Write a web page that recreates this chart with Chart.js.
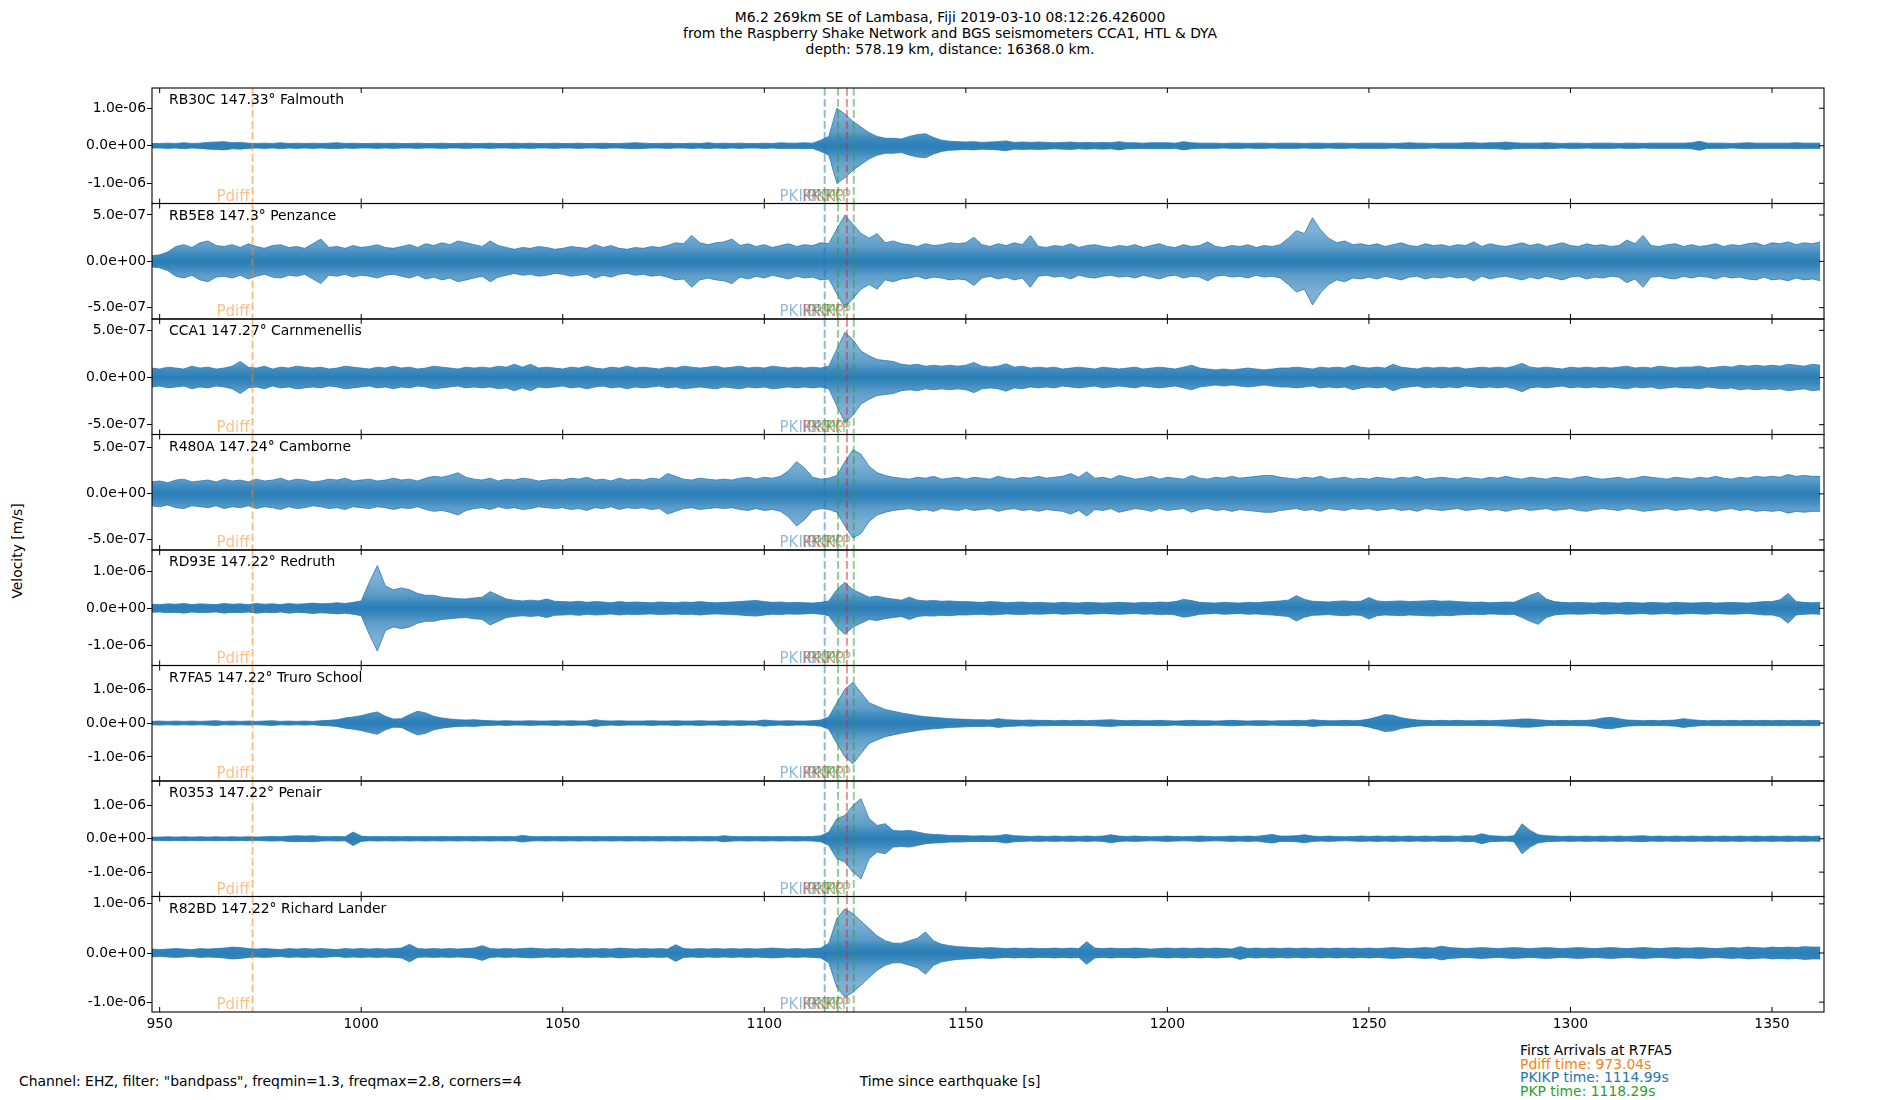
<!DOCTYPE html>
<html>
<head>
<meta charset="utf-8">
<script src="https://cdn.jsdelivr.net/npm/chart.js@4.4.1/dist/chart.umd.min.js"></script>
<style>
  body { margin: 0; background: #fff; }
  #wrap { position: relative; width: 1900px; height: 1100px; overflow: hidden;
          font-family: "DejaVu Sans"; font-size: 13.9px; color: #000; }
  #wrap canvas { position: absolute; left: 0; top: 0; }
  .txt { position: absolute; white-space: pre; line-height: 16px; }
</style>
</head>
<body>
<div id="wrap">
  <div class="txt" style="left:950px; top:9px; transform:translateX(-50%); text-align:center;">M6.2 269km SE of Lambasa, Fiji 2019-03-10 08:12:26.426000
from the Raspberry Shake Network and BGS seismometers CCA1, HTL &amp; DYA
depth: 578.19 km, distance: 16368.0 km.</div>
  <div class="txt" style="left:17px; top:551px; transform:translate(-50%,-50%) rotate(-90deg);">Velocity [m/s]</div>
  <div class="txt" style="left:19px; top:1073px;">Channel: EHZ, filter: "bandpass", freqmin=1.3, freqmax=2.8, corners=4</div>
  <div class="txt" style="left:950px; top:1073px; transform:translateX(-50%);">Time since earthquake [s]</div>
  <div class="txt" style="left:1520px; top:1044px; line-height:13.7px;">First Arrivals at R7FA5
<span style="color:#ff7f0e">Pdiff time: 973.04s</span>
<span style="color:#1f77b4">PKIKP time: 1114.99s</span>
<span style="color:#2ca02c">PKP time: 1118.29s</span></div>
</div>
<script>
// peak amplitude of each trace in 2 s bins, units of 1e-7 m/s
// bins: 948, then 950..1348 in rows of ten, then 1350..1362
var ampFalmouth = [0.6,
  0.6,0.7,0.6,0.8,0.6,0.7,0.9,1.0,1.1,0.8,
  0.9,0.7,0.6,0.7,0.6,0.8,0.6,0.7,0.6,0.7,
  0.6,0.7,0.8,0.6,0.7,0.6,0.6,0.7,0.6,0.7,
  0.6,0.6,0.7,0.6,0.6,0.7,0.6,0.6,0.7,0.6,
  0.6,0.7,0.6,0.6,0.7,0.6,0.7,0.6,0.6,0.7,
  0.6,0.6,0.7,0.6,0.6,0.7,0.6,0.6,0.7,0.8,
  0.7,0.6,0.6,0.7,0.6,0.6,0.7,0.6,0.8,0.6,
  0.7,0.6,0.7,0.6,0.6,0.7,0.6,0.8,0.7,0.7,
  0.8,0.7,1.5,2.5,10,8.5,6.5,5.0,3.5,2.5,
  2.0,2.0,1.8,2.5,3.0,3.2,2.2,1.5,1.2,1.1,
  1.0,1.1,0.9,1.0,1.1,1.3,0.9,1.0,0.9,1.0,
  0.9,0.8,0.9,1.0,0.8,0.9,0.8,0.9,0.8,1.1,
  0.8,0.8,0.7,0.8,0.8,0.8,0.7,1.1,0.8,0.7,
  0.7,0.7,0.6,0.7,0.7,0.6,0.7,0.7,0.6,0.7,
  0.7,0.7,0.6,0.7,0.7,0.6,0.7,0.7,0.6,0.7,
  0.7,0.7,0.7,0.6,0.7,0.8,0.7,0.7,0.6,0.7,
  0.7,0.7,0.8,0.8,0.7,0.8,0.8,1.0,0.8,0.7,
  0.7,0.7,0.8,0.7,0.6,0.7,0.7,0.6,0.7,0.7,
  0.7,0.6,0.7,0.7,0.6,0.7,0.7,0.7,0.7,0.7,
  0.8,1.2,0.7,0.7,0.7,0.6,0.7,0.8,0.7,0.7,
  0.7,0.7,0.7,0.8,0.7,0.7,0.7];

var ampPenzance = [0.6,
  0.7,1.0,1.6,1.8,1.5,2.0,2.2,1.7,1.6,1.8,
  1.5,1.9,1.6,1.4,1.7,1.8,1.5,1.6,1.4,1.9,
  2.4,1.5,1.6,1.4,1.7,1.5,1.6,1.8,1.5,1.4,
  1.6,1.8,1.5,1.9,1.7,2.0,1.8,2.2,2.0,1.8,
  1.6,2.2,1.7,1.5,1.3,1.5,1.4,1.6,1.5,1.3,
  1.4,1.6,1.5,1.4,1.8,1.5,1.7,1.4,1.3,1.5,
  1.4,1.6,1.5,1.7,2.0,1.9,2.8,2.0,1.8,2.0,
  2.1,2.4,1.7,1.9,1.6,1.8,1.5,1.7,1.9,1.6,
  1.8,1.7,2.0,1.9,3.5,5.0,4.0,3.0,2.5,3.0,
  2.0,2.2,1.9,1.8,1.6,1.9,1.7,1.8,2.0,1.9,
  2.0,2.6,1.8,1.6,1.9,1.7,2.0,1.8,2.8,1.6,
  1.5,1.7,1.6,1.9,1.5,1.7,1.8,1.6,1.5,1.7,
  1.6,1.8,1.5,1.7,1.9,1.6,1.5,1.8,1.6,1.7,
  2.1,1.6,1.5,1.7,1.6,1.8,1.5,1.7,1.6,1.8,
  2.5,3.3,3.0,4.7,3.4,2.5,2.0,2.2,1.8,1.9,
  1.7,1.9,1.6,1.8,2.0,1.7,1.6,1.9,1.7,1.8,
  1.6,1.8,1.7,2.1,1.6,1.9,1.7,1.6,1.8,2.0,
  1.7,1.9,1.6,1.8,2.0,1.7,1.6,1.9,1.7,1.8,
  1.6,1.7,2.3,1.9,2.8,1.7,1.6,1.8,1.9,1.6,
  1.8,1.6,1.7,1.9,1.6,1.8,1.7,1.9,2.0,1.7,
  2.0,1.9,2.1,1.8,2.0,1.9,2.1];

var ampCarnmenellis = [1.0,
  0.9,1.1,1.0,0.9,1.2,1.0,1.1,0.9,1.0,1.2,
  1.7,1.1,1.0,1.2,0.9,1.1,1.0,1.2,1.1,1.0,
  1.1,0.9,1.0,1.2,1.1,1.0,0.9,1.1,1.0,1.2,
  1.0,1.1,0.9,1.0,1.2,1.1,1.0,0.9,1.1,1.0,
  1.1,1.0,1.2,1.1,1.4,1.1,1.4,1.0,1.1,1.0,
  0.9,1.1,1.0,1.2,1.0,0.9,1.1,1.0,1.2,1.0,
  1.1,1.0,0.9,1.1,1.0,1.2,1.1,1.0,1.1,1.2,
  1.0,1.1,1.2,1.0,1.1,1.0,1.2,1.1,1.0,1.1,
  1.0,1.1,1.0,1.2,3.0,4.8,4.0,2.8,2.3,1.9,
  1.8,1.7,1.4,1.3,1.4,1.2,1.3,1.2,1.3,1.2,
  1.3,1.6,1.2,1.1,1.2,1.45,1.1,1.2,1.0,1.1,
  1.0,1.1,0.9,1.0,1.1,1.0,0.9,1.1,1.0,0.9,
  1.0,1.1,0.9,1.0,1.1,1.0,0.9,1.1,1.3,1.0,
  0.9,0.8,0.9,0.8,0.9,1.0,0.9,0.8,0.9,1.0,
  1.0,1.1,1.0,0.9,1.1,1.0,1.1,1.0,1.3,1.1,
  1.0,1.1,1.0,1.4,1.1,1.0,0.9,1.1,1.0,1.1,
  1.0,1.1,0.9,1.0,1.1,1.0,1.1,1.0,1.2,1.5,
  1.1,1.0,1.1,1.0,0.9,1.1,1.0,1.1,1.0,1.1,
  1.0,1.1,1.2,1.0,1.1,1.0,1.2,1.1,1.0,1.1,
  1.1,1.2,1.0,1.1,1.2,1.1,1.3,1.2,1.3,1.2,
  1.3,1.2,1.4,1.3,1.2,1.4,1.3];

var ampCamborne = [1.3,
  1.4,1.2,1.5,1.6,1.3,1.4,1.5,1.3,1.6,1.4,
  1.5,1.3,1.6,1.4,1.5,1.7,1.4,1.6,1.5,1.3,
  1.4,1.6,1.5,1.7,1.4,1.5,1.6,1.4,1.5,1.7,
  1.5,1.6,1.4,1.7,1.9,1.8,2.0,2.3,1.8,1.6,
  1.5,1.7,1.4,1.6,1.5,1.7,1.6,1.4,1.5,1.6,
  1.5,1.7,1.6,1.8,1.5,1.6,1.4,1.7,1.5,1.6,
  1.5,1.7,1.6,2.2,1.9,1.6,1.5,1.7,1.6,1.5,
  1.6,1.5,1.7,1.8,1.6,1.8,1.7,1.9,2.5,3.5,
  2.8,1.8,1.6,1.7,2.0,3.5,4.8,4.3,3.0,2.3,
  2.0,1.8,1.7,1.6,1.8,1.7,1.9,1.6,1.7,1.8,
  1.6,1.8,1.7,1.6,1.9,1.7,1.6,1.8,1.7,1.9,
  1.7,1.8,1.9,2.2,1.8,2.4,1.7,1.8,1.6,2.0,
  1.8,1.6,1.7,1.9,1.6,1.8,1.7,1.6,2.0,1.7,
  1.6,1.8,1.7,1.9,1.7,1.8,1.9,2.0,2.0,1.8,
  1.7,1.6,1.8,1.7,1.9,1.6,1.7,1.8,1.6,1.7,
  1.6,1.8,1.7,1.6,1.8,1.7,1.9,1.6,1.7,1.8,
  1.7,1.6,1.8,1.7,1.6,1.8,1.7,1.9,1.7,1.6,
  1.8,1.7,1.6,1.8,1.7,1.6,1.8,1.9,1.7,1.6,
  1.7,1.8,1.6,1.7,1.9,1.8,1.7,1.6,1.8,1.7,
  1.6,1.8,1.7,1.9,1.7,1.6,1.8,1.7,1.9,1.8,
  1.9,1.8,2.1,1.9,2.0,1.9,1.9];

var ampRedruth = [1.1,
  1.0,1.2,1.1,1.3,1.0,1.2,1.1,1.0,1.3,1.1,
  1.2,1.0,1.3,1.1,1.2,1.0,1.3,1.1,1.2,1.4,
  1.2,1.3,1.5,1.3,1.6,2.0,7.0,11.5,6.0,5.0,
  5.5,5.0,4.0,3.5,3.5,3.0,2.8,2.6,2.5,2.8,
  3.0,4.5,3.5,2.5,2.2,2.0,2.2,2.0,2.5,1.9,
  1.8,1.7,1.9,1.6,1.8,1.7,1.5,1.8,1.6,1.7,
  1.6,1.5,1.7,1.6,1.5,1.7,1.6,1.8,1.6,1.5,
  1.6,1.7,1.8,2.0,2.1,1.8,1.6,1.7,1.5,1.6,
  1.5,1.4,1.6,2.0,5.0,7.0,5.0,4.0,3.0,3.3,
  2.8,2.5,2.2,3.0,2.2,2.0,2.1,1.9,2.0,1.8,
  1.8,1.7,1.6,1.8,1.7,1.5,1.6,1.7,1.5,1.6,
  1.5,1.4,1.6,1.5,1.4,1.6,1.5,1.4,1.5,1.6,
  1.5,1.4,1.6,1.5,1.7,1.6,1.8,2.4,2.1,1.6,
  1.5,1.4,1.6,1.5,1.4,1.6,1.5,1.7,1.8,2.0,
  2.2,3.4,2.4,1.9,1.8,1.7,1.9,2.0,1.8,1.9,
  2.9,2.0,1.8,1.9,2.0,1.8,1.9,2.0,2.1,1.9,
  2.0,1.8,1.7,1.6,1.7,1.5,1.6,1.7,1.6,2.5,
  3.5,4.3,2.5,1.8,1.6,1.5,1.6,1.5,1.4,1.6,
  1.5,1.4,1.6,1.5,1.4,1.6,1.5,1.4,1.6,1.5,
  1.4,1.5,1.6,1.4,1.5,1.6,1.5,1.4,1.6,1.8,
  1.8,2.3,4.0,1.8,1.6,1.5,1.6];

var ampTruro = [0.5,
  0.6,0.5,0.6,0.5,0.6,0.5,0.6,0.7,0.5,0.6,
  0.5,0.6,0.5,0.6,0.7,0.5,0.6,0.5,0.6,0.5,
  0.7,0.8,1.0,1.5,1.8,2.2,2.8,3.3,2.0,1.2,
  1.3,2.5,3.5,3.0,2.0,1.5,1.2,1.0,0.9,1.0,
  0.8,0.7,0.6,0.7,0.6,0.6,0.7,0.6,0.6,0.7,
  0.6,0.7,0.6,0.6,1.0,0.7,0.6,0.7,0.6,0.6,
  0.6,0.7,0.6,0.6,0.7,0.6,0.6,0.7,0.6,0.6,
  0.7,0.6,0.7,0.6,0.6,0.9,0.7,0.6,0.7,0.6,
  0.6,0.7,0.9,1.8,6.0,10.0,12.0,9.0,6.0,5.0,
  4.0,3.5,3.0,2.6,2.2,1.9,1.7,1.5,1.3,1.2,
  1.1,1.0,1.0,0.9,1.3,1.0,0.9,0.8,0.9,0.8,
  0.8,0.7,0.8,0.7,0.8,0.7,0.8,0.9,1.0,0.8,
  0.7,0.8,0.7,0.7,0.8,0.7,0.6,0.7,0.8,0.7,
  0.7,0.6,0.7,0.8,0.7,0.6,0.7,0.7,0.6,0.7,
  0.7,0.8,0.7,1.0,0.8,0.7,0.7,0.8,0.7,0.8,
  1.2,1.8,2.5,2.3,1.6,1.2,0.9,0.8,0.7,0.8,
  0.7,0.8,0.7,0.7,0.8,0.7,0.8,0.9,1.0,1.2,
  1.2,1.0,0.8,0.7,0.8,0.7,0.8,0.8,1.0,1.5,
  1.7,1.3,0.9,0.8,0.7,0.8,0.7,0.8,0.9,1.3,
  1.0,0.8,0.7,0.8,0.7,0.8,0.7,0.8,0.7,0.8,
  0.7,0.8,0.7,0.8,0.7,0.8,0.7];

var ampPenair = [0.5,
  0.5,0.6,0.5,0.6,0.5,0.6,0.5,0.6,0.5,0.6,
  0.5,0.6,0.5,0.6,0.7,0.6,0.8,0.9,0.8,0.9,
  0.7,0.6,0.7,0.6,2.0,0.8,0.6,0.7,0.6,0.7,
  0.6,0.7,0.6,0.7,0.6,0.7,0.6,0.7,0.6,0.7,
  0.6,0.7,0.6,0.7,0.6,1.0,0.7,0.6,0.7,0.6,
  0.7,0.6,0.7,0.6,0.7,0.6,0.7,0.6,0.7,0.6,
  0.7,0.6,0.7,0.6,0.7,0.6,0.7,0.6,0.7,0.6,
  0.9,0.7,0.6,0.7,0.6,0.7,0.6,0.7,0.6,0.7,
  0.6,0.7,0.9,2.0,6.0,7.0,10.0,12.0,6.0,4.0,
  4.5,2.5,2.3,2.5,2.0,1.5,1.3,1.2,1.0,1.0,
  0.9,0.8,0.9,0.8,0.9,1.3,0.9,0.8,0.7,0.8,
  0.7,0.8,0.7,0.8,0.7,0.8,0.7,0.8,1.2,0.8,
  0.7,0.8,0.7,0.6,0.7,0.8,0.7,0.6,0.7,0.8,
  0.7,0.6,0.7,0.8,0.7,0.8,0.7,1.0,1.3,0.8,
  0.8,0.9,1.2,0.8,0.7,0.8,0.7,0.6,0.7,0.8,
  0.7,0.8,0.7,0.8,0.7,0.8,0.7,0.8,0.7,0.8,
  0.8,0.7,0.9,0.8,1.5,0.9,0.8,0.7,0.9,4.5,
  2.5,1.2,0.9,0.8,0.7,0.8,0.7,0.8,0.7,0.8,
  0.7,0.8,0.7,0.8,0.9,0.7,0.8,0.7,0.8,0.7,
  0.8,0.7,0.8,0.7,0.8,0.7,0.8,0.7,0.8,0.7,
  0.8,0.7,0.8,0.7,0.8,0.7,0.8];

var ampRichardLander = [0.8,
  0.7,0.8,0.9,0.8,0.7,0.9,0.8,0.9,1.0,1.2,
  1.1,0.9,0.8,0.9,0.8,0.7,0.9,0.8,0.9,0.8,
  0.9,0.8,0.7,0.9,0.8,0.9,0.8,0.9,0.8,0.9,
  1.0,1.8,0.9,0.8,0.9,0.8,0.9,0.8,0.9,1.0,
  1.5,0.9,0.8,0.9,0.8,0.9,1.0,0.9,0.8,0.9,
  0.8,0.9,0.8,0.9,0.8,0.9,0.8,1.0,0.9,0.8,
  0.9,0.8,0.9,0.8,1.7,0.9,0.8,0.9,0.8,0.9,
  0.8,0.9,0.8,0.9,0.8,0.9,1.0,0.9,0.8,0.9,
  0.8,0.9,1.0,2.0,7.0,9.0,8.0,6.5,5.0,3.5,
  2.5,2.0,2.0,2.5,3.0,4.3,2.5,1.8,1.5,1.3,
  1.2,1.1,1.0,1.1,1.0,0.9,1.0,0.9,1.0,0.9,
  0.9,1.0,0.9,1.0,0.9,2.3,1.0,0.9,1.0,0.9,
  0.9,1.0,0.9,0.8,0.9,1.0,0.9,1.0,0.9,1.0,
  0.9,1.0,0.9,0.8,1.3,0.9,1.0,0.9,1.0,0.9,
  1.0,0.9,1.0,0.9,1.0,0.9,1.0,0.9,1.0,0.9,
  1.0,0.9,1.0,1.1,1.0,0.9,1.0,1.1,1.0,1.4,
  1.1,1.0,0.9,1.0,1.1,1.0,0.9,1.0,1.1,1.0,
  0.9,1.0,1.1,1.0,0.9,1.0,1.1,1.0,0.9,1.0,
  1.1,1.0,0.9,1.0,1.1,1.0,0.9,1.0,1.1,1.0,
  1.0,1.1,1.0,0.9,1.0,1.1,1.0,1.2,1.1,1.0,
  1.2,1.1,1.2,1.1,1.3,1.2,1.2];

var stations = ['RB30C 147.33\u00b0 Falmouth', 'RB5E8 147.3\u00b0 Penzance',
  'CCA1 147.27\u00b0 Carnmenellis', 'R480A 147.24\u00b0 Camborne',
  'RD93E 147.22\u00b0 Redruth', 'R7FA5 147.22\u00b0 Truro School',
  'R0353 147.22\u00b0 Penair', 'R82BD 147.22\u00b0 Richard Lander'];
var amps = [ampFalmouth, ampPenzance, ampCarnmenellis, ampCamborne,
  ampRedruth, ampTruro, ampPenair, ampRichardLander];

// y limits and tick step per panel (1e-7 m/s)
var yLow = [-15.4, -6.22, -6.04, -6.1, -15.4, -17.1, -17.3, -12.0];
var yHigh = [15.4, 6.24, 6.2, 6.45, 15.7, 17.0, 17.3, 11.5];
var yStep = [10, 5, 5, 5, 10, 10, 10, 10];

var xTicks = [950, 1000, 1050, 1100, 1150, 1200, 1250, 1300, 1350];

var phases = ['Pdiff', 'PKIKP', 'PKP', 'PKiKP', 'PKP'];
var arrivalTimes = [973.04, 1114.99, 1118.29, 1120.5, 1122.2];
var phaseColors = ['rgba(255,127,14,0.5)', 'rgba(31,119,180,0.5)', 'rgba(44,160,44,0.5)',
  'rgba(214,39,40,0.5)', 'rgba(44,160,44,0.5)'];

var times = [];
for (var t = 948; t <= 1362; t += 2) times.push(t);

var C0 = '#1f77b4';
var FONT = '"DejaVu Sans"';

function sci(v) {
  if (Math.abs(v) < 1e-15) return '0.0e+00';
  var parts = v.toExponential(1).split('e');
  var e = parseInt(parts[1], 10);
  var ae = Math.abs(e);
  return parts[0] + 'e' + (e < 0 ? '-' : '+') + (ae < 10 ? '0' : '') + ae;
}

// trace fill: dense near the zero line, thinner towards the envelope
function traceFill(ctx) {
  var chart = ctx.chart, a = chart.chartArea;
  if (!a || !chart.scales.y) return C0;
  var y0 = chart.scales.y.getPixelForValue(0);
  var h = a.bottom - a.top;
  var g = chart.ctx.createLinearGradient(0, a.top, 0, a.bottom);
  var steps = [[60, 0.5], [30, 0.58], [14, 0.72], [6, 0.88], [0, 0.95]];
  function stop(y, al) {
    var p = (y - a.top) / h;
    if (p >= 0 && p <= 1) g.addColorStop(p, 'rgba(31,119,180,' + al + ')');
  }
  steps.forEach(function(s) { stop(y0 - s[0], s[1]); });
  steps.slice(0, 4).reverse().forEach(function(s) { stop(y0 + s[0], s[1]); });
  return g;
}

function panelPlugin(i) {
  return {
    id: 'panel' + i,
    afterDatasetsDraw: function(chart) {
      var c = chart.ctx, a = chart.chartArea;
      var xs = chart.scales.x, ys = chart.scales.y;
      c.save();
      // arrival lines
      c.lineWidth = 2;
      c.setLineDash([7.7, 3.3]);
      arrivalTimes.forEach(function(at, k) {
        var px = xs.getPixelForValue(at);
        c.strokeStyle = phaseColors[k];
        c.beginPath(); c.moveTo(px, a.top); c.lineTo(px, a.bottom); c.stroke();
      });
      c.setLineDash([]);
      c.font = '15px ' + FONT;
      c.textAlign = 'right';
      c.textBaseline = 'alphabetic';
      phases.forEach(function(p, k) {
        c.fillStyle = phaseColors[k];
        c.fillText(p, xs.getPixelForValue(arrivalTimes[k]) - 3, a.bottom - 3);
      });
      // station name
      c.fillStyle = '#000';
      c.font = '13.9px ' + FONT;
      c.textAlign = 'left';
      c.fillText(stations[i], a.left + 17, a.top + 16);
      // frame and inward ticks
      c.strokeStyle = '#000';
      c.lineWidth = 1.1;
      c.strokeRect(a.left, a.top, a.right - a.left, a.bottom - a.top);
      c.lineWidth = 1;
      c.beginPath();
      xTicks.forEach(function(v) {
        var px = xs.getPixelForValue(v);
        c.moveTo(px, a.top); c.lineTo(px, a.top + 5);
        c.moveTo(px, a.bottom); c.lineTo(px, a.bottom - 5);
      });
      [-yStep[i], 0, yStep[i]].forEach(function(v) {
        var py = ys.getPixelForValue(v);
        c.moveTo(a.right, py); c.lineTo(a.right - 5, py);
      });
      c.stroke();
      c.restore();
    }
  };
}

var wrap = document.getElementById('wrap');
stations.forEach(function(name, i) {
  var top = 88 + i * 115.5, bottom = top + 115.5;
  var last = i === stations.length - 1;
  var cv = document.createElement('canvas');
  cv.width = 1900; cv.height = 1100;
  wrap.appendChild(cv);

  new Chart(cv.getContext('2d'), {
    type: 'line',
    data: {
      datasets: [{
        data: amps[i].map(function(v, k) { return {x: times[k], y: v}; }),
        borderColor: 'rgba(31,119,180,0.75)', backgroundColor: traceFill, borderWidth: 1,
        pointRadius: 0, fill: false
      }, {
        data: amps[i].map(function(v, k) { return {x: times[k], y: -v}; }),
        borderColor: 'rgba(31,119,180,0.75)', backgroundColor: traceFill, borderWidth: 1,
        pointRadius: 0, fill: '-1'
      }]
    },
    options: {
      responsive: false,
      animation: false,
      devicePixelRatio: 1,
      layout: { padding: { left: 0, right: 76, top: top,
                           bottom: last ? 1100 - bottom - 30 : 1100 - bottom } },
      plugins: { legend: { display: false }, tooltip: { enabled: false } },
      scales: {
        x: {
          type: 'linear', min: 948.1, max: 1362.9, display: last,
          afterBuildTicks: function(s) { s.ticks = xTicks.map(function(v) { return {value: v}; }); },
          afterFit: function(s) { if (last) s.height = 30; },
          grid: { display: false, drawTicks: false },
          border: { display: false },
          ticks: { font: { family: FONT, size: 13.9 }, color: '#000', padding: 4,
                   maxRotation: 0, autoSkip: false,
                   callback: function(v) { return String(v); } }
        },
        y: {
          min: yLow[i], max: yHigh[i],
          afterBuildTicks: function(s) {
            s.ticks = [-yStep[i], 0, yStep[i]].map(function(v) { return {value: v}; });
          },
          afterFit: function(s) { s.width = 152; },
          grid: { drawOnChartArea: false, drawTicks: true, tickLength: 5, color: '#000', lineWidth: 1 },
          border: { display: false },
          ticks: { font: { family: FONT, size: 13.9 }, color: '#000', padding: 1,
                   callback: function(v) { return sci(v * 1e-7); } }
        }
      }
    },
    plugins: [panelPlugin(i)]
  });
});
</script>
</body>
</html>
